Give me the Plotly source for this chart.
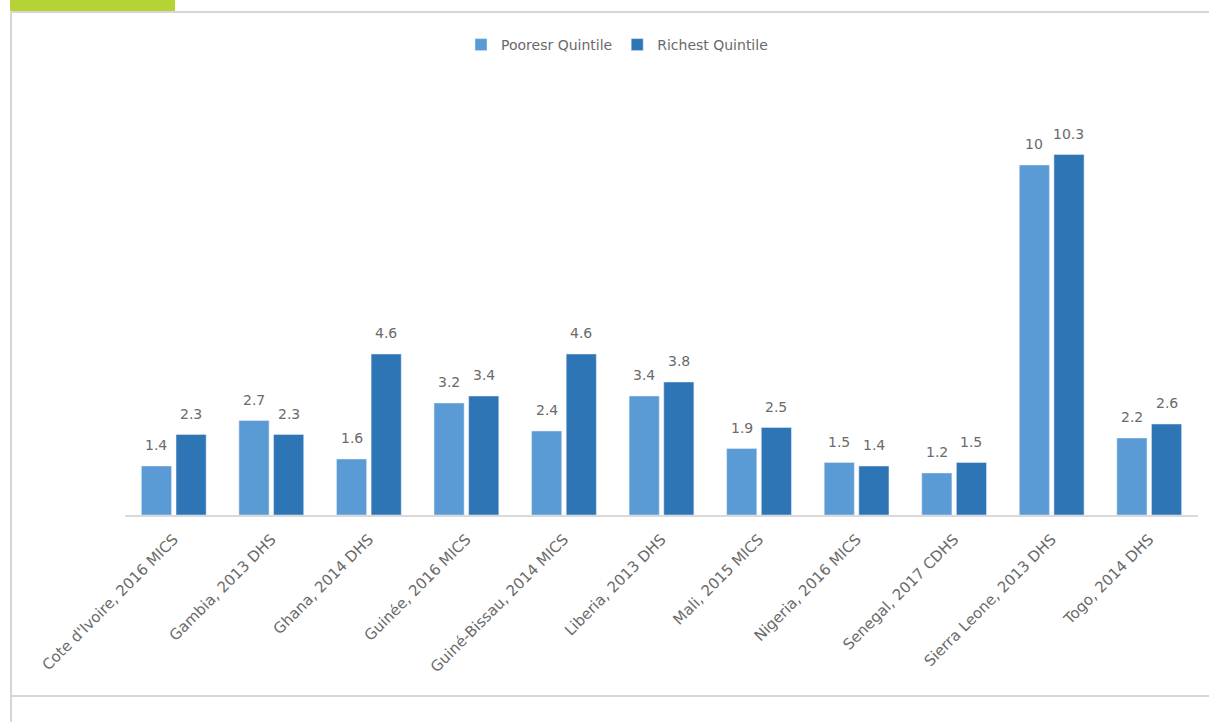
import plotly.graph_objects as go

categories = ["Cote d'Ivoire, 2016 MICS", "Gambia, 2013 DHS", "Ghana, 2014 DHS",
              "Guinée, 2016 MICS", "Guiné-Bissau, 2014 MICS", "Liberia, 2013 DHS",
              "Mali, 2015 MICS", "Nigeria, 2016 MICS", "Senegal, 2017 CDHS",
              "Sierra Leone, 2013 DHS", "Togo, 2014 DHS"]
poorest = [1.4, 2.7, 1.6, 3.2, 2.4, 3.4, 1.9, 1.5, 1.2, 10, 2.2]
richest = [2.3, 2.3, 4.6, 3.4, 4.6, 3.8, 2.5, 1.4, 1.5, 10.3, 2.6]
series_names = ["Pooresr Quintile", "Richest Quintile"]
colors = ["#5b9bd5", "#2e75b6"]

FONT = "DejaVu Sans"
GRAY = "#6a6a6a"

L, R, T, B = 125, 11, 95, 207
W, H = 1209, 722
pw = W - L - R
ph = H - T - B
BARGAP = 0.29

def px_x(x):
    return (x - L) / pw

def px_y(y):
    return (H - B - y) / ph

fig = go.Figure()
for name, vals, col in zip(series_names, [poorest, richest], colors):
    fig.add_trace(go.Bar(x=categories, y=vals, name=name, marker=dict(color=col)))

# data labels above each bar, offset to the bar's slot within the group
slot = pw / len(categories) * (1 - BARGAP) / 2
annotations = []
for i, vals in enumerate([poorest, richest]):
    shift = (i - 0.5) * slot
    for c, v in zip(categories, vals):
        annotations.append(dict(x=c, y=v, xref="x", yref="y", text=f"{v:g}",
                                showarrow=False, xshift=shift, yshift=21,
                                yanchor="middle",
                                font=dict(size=14, color=GRAY, family=FONT)))

shapes = [
    dict(type="line", xref="paper", yref="paper", x0=px_x(11), x1=px_x(1209),
         y0=px_y(12), y1=px_y(12), line=dict(color="#c8c8c8", width=1.5)),
    dict(type="line", xref="paper", yref="paper", x0=px_x(11), x1=px_x(11),
         y0=px_y(12), y1=px_y(722), line=dict(color="#c8c8c8", width=1.5)),
    dict(type="line", xref="paper", yref="paper", x0=px_x(11), x1=px_x(1209),
         y0=px_y(696), y1=px_y(696), line=dict(color="#c8c8c8", width=1.5)),
    dict(type="rect", xref="paper", yref="paper", x0=px_x(10), x1=px_x(175),
         y0=px_y(11), y1=px_y(-2), fillcolor="#b5d334", line=dict(width=0)),
]

fig.update_layout(
    width=W, height=H,
    margin=dict(l=L, r=R, t=T, b=B),
    plot_bgcolor="white", paper_bgcolor="white",
    barmode="group", bargap=BARGAP, bargroupgap=0.13,
    font=dict(family=FONT, color=GRAY, size=14),
    showlegend=True,
    legend=dict(orientation="h", x=px_x(617), xanchor="center",
                y=px_y(45), yanchor="middle", font=dict(size=14, color=GRAY, family=FONT),
                itemwidth=30, traceorder="normal"),
    xaxis=dict(tickangle=-45, showline=True, linecolor="#d9d9d9", linewidth=1.5,
               ticks="", tickfont=dict(size=15, color=GRAY, family=FONT),
               ticklabelshift=0, ticklabelstandoff=8, showgrid=False),
    yaxis=dict(range=[0, 12], visible=False, showgrid=False, zeroline=False),
    shapes=shapes,
    annotations=annotations,
)

fig.write_html("out.html", config={"displayModeBar": False},
               post_script="document.body.style.margin='0';")
